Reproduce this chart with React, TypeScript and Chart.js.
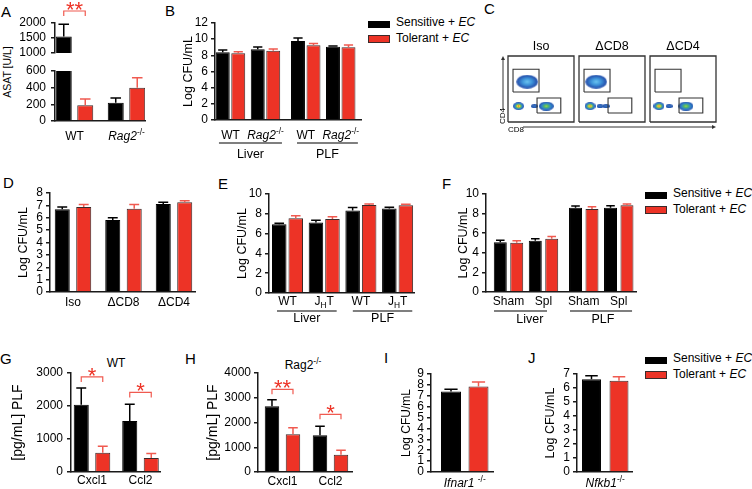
import React, { useEffect, useRef } from "react";
import { Chart, registerables } from "chart.js";

Chart.register(...registerables);

const FONT = "'Liberation Sans', Arial, Helvetica, sans-serif";
Chart.defaults.font.family = FONT;
Chart.defaults.color = "#000";

const BLACK = "#000000";
const RED = "#ED3326";
const RED_LINE = "#F05A50";
const RED_EDGE = "#3a2a2a";
const AXIS = "#1a1a1a";

// ---------------- DATA ----------------
const LEGEND_SERIES = ["Sensitive", "Tolerant"];
const LEGEND_AGENT = "EC";

// A
const A_CATS = ["WT", "*Rag2*^{-/-}"];
const A_SENS = [1550, 220];
const A_SENS_ERR = [1960, 276];
const A_TOL = [190, 400];
const A_TOL_ERR = [265, 520];
const A_UPPER_TICKS = [1000, 1500, 2000];
const A_LOWER_TICKS = [0, 200, 400, 600];
const A_SIG = ["**"];
const A_SIG_Y = [2400];

// B
const B_CATS = ["WT", "*Rag2*^{-/-}", "WT", "*Rag2*^{-/-}"];
const B_GROUPS = ["Liver", "PLF"];
const B_SENS = [8.38, 8.75, 9.78, 9.07];
const B_SENS_ERR = [8.66, 9.03, 10.15, 9.17];
const B_TOL = [8.25, 8.58, 9.24, 9.0];
const B_TOL_ERR = [8.45, 8.79, 9.45, 9.28];
const B_TICKS = [0, 2, 4, 6, 8, 10, 12];

// C
const C_TITLES = ["Iso", "\u0394CD8", "\u0394CD4"];
const C_GATES = [
  [0.076, 0.455, 0.47, 0.8],
  [0.44, 0.136, 0.8, 0.364],
];
const C_CD4_POP = [[0, 0.29, 0.61], [1, 0.26, 0.61]];
const C_DN_POP = [[0, 0.16, 0.24], [1, 0.167, 0.24], [2, 0.136, 0.24]];
const C_CD8_POP = [[0, 0.58, 0.24], [2, 0.545, 0.24]];
const C_TAIL_POP = [[0, 0.4, 0.24], [1, 0.32, 0.24], [1, 0.41, 0.24], [2, 0.29, 0.24]];

// D
const D_CATS = ["Iso", "\u0394CD8", "\u0394CD4"];
const D_SENS = [6.68, 5.82, 7.11];
const D_SENS_ERR = [6.87, 6.0, 7.25];
const D_TOL = [6.87, 6.73, 7.25];
const D_TOL_ERR = [7.08, 7.08, 7.38];
const D_TICKS = [0, 1, 2, 3, 4, 5, 6, 7, 8];

// E
const E_CATS = ["WT", "J_{H}T", "WT", "J_{H}T"];
const E_GROUPS = ["Liver", "PLF"];
const E_SENS = [6.95, 7.13, 8.33, 8.54];
const E_SENS_ERR = [7.05, 7.36, 8.64, 8.65];
const E_TOL = [7.56, 7.47, 8.88, 8.86];
const E_TOL_ERR = [7.8, 7.7, 8.98, 8.97];
const E_TICKS = [0, 2, 4, 6, 8, 10];

// F
const F_CATS = ["Sham", "Spl", "Sham", "Spl"];
const F_GROUPS = ["Liver", "PLF"];
const F_SENS = [5.08, 5.22, 8.6, 8.6];
const F_SENS_ERR = [5.29, 5.43, 8.77, 8.8];
const F_TOL = [5.02, 5.43, 8.46, 8.84];
const F_TOL_ERR = [5.22, 5.67, 8.7, 8.98];
const F_TICKS = [0, 2, 4, 6, 8, 10];

// G
const G_TITLE = "WT";
const G_CATS = ["Cxcl1", "Ccl2"];
const G_SENS = [2035, 1546];
const G_SENS_ERR = [2543, 2055];
const G_TOL = [580, 427];
const G_TOL_ERR = [783, 560];
const G_TICKS = [0, 1000, 2000, 3000];
const G_SIG = ["*", "*"];
const G_SIG_Y = [2880, 2410];

// H
const H_CATS = ["Cxcl1", "Ccl2"];
const H_SENS = [2653, 1481];
const H_SENS_ERR = [2923, 1845];
const H_TOL = [1522, 700];
const H_TOL_ERR = [1791, 875];
const H_TICKS = [0, 1000, 2000, 3000, 4000];
const H_SIG = ["**", "*"];
const H_SIG_Y = [3340, 2330];

// I
const I_CATS = ["*Ifnar1* ^{-/-}"];
const I_SENS = [7.4];
const I_SENS_ERR = [7.61];
const I_TOL = [7.86];
const I_TOL_ERR = [8.26];
const I_TICKS = [0, 1, 2, 3, 4, 5, 6, 7, 8, 9];

// J
const J_CATS = ["*Nfkb1*^{-/-}"];
const J_SENS = [6.62];
const J_SENS_ERR = [6.88];
const J_TOL = [6.52];
const J_TOL_ERR = [6.81];
const J_TICKS = [0, 1, 2, 3, 4, 5, 6, 7];

// ---------------- HELPERS ----------------
type Seg = { t: string; i: boolean; sup: boolean; sub: boolean };

function parseRich(s: string): Seg[] {
  const out: Seg[] = [];
  let italic = false;
  let buf = "";
  let i = 0;
  const flush = () => {
    if (buf) out.push({ t: buf, i: italic, sup: false, sub: false });
    buf = "";
  };
  while (i < s.length) {
    const c = s[i];
    if (c === "*") {
      flush();
      italic = !italic;
      i++;
      continue;
    }
    if ((c === "^" || c === "_") && s[i + 1] === "{") {
      flush();
      const end = s.indexOf("}", i);
      out.push({ t: s.slice(i + 2, end), i: italic, sup: c === "^", sub: c === "_" });
      i = end + 1;
      continue;
    }
    buf += c;
    i++;
  }
  flush();
  return out;
}

function drawRich(ctx: CanvasRenderingContext2D, text: string, cx: number, cy: number, size: number) {
  const segs = parseRich(text);
  const fontOf = (sg: Seg) => `${sg.i ? "italic " : ""}${sg.sup || sg.sub ? size * 0.7 : size}px ${FONT}`;
  let total = 0;
  const widths = segs.map((sg) => {
    ctx.font = fontOf(sg);
    const w = ctx.measureText(sg.t).width;
    total += w;
    return w;
  });
  let x = cx - total / 2;
  ctx.save();
  ctx.fillStyle = "#000";
  ctx.textBaseline = "middle";
  ctx.textAlign = "left";
  segs.forEach((sg, k) => {
    ctx.font = fontOf(sg);
    const dy = sg.sup ? -size * 0.38 : sg.sub ? size * 0.3 : 0;
    ctx.fillText(sg.t, x, cy + dy);
    x += widths[k];
  });
  ctx.restore();
}

type Series = { values: number[]; errors: number[]; fill: string; edge: string; errColor: string };
const sens = (values: number[], errors: number[]): Series => ({ values, errors, fill: BLACK, edge: BLACK, errColor: BLACK });
const tol = (values: number[], errors: number[]): Series => ({ values, errors, fill: RED, edge: RED_EDGE, errColor: RED_LINE });

type Group = { text: string; from: number; to: number; at?: number };
type BarCfg = {
  box: number[];
  area: number[];
  ticks: number[];
  tickPad?: number;
  title?: string;
  titleSize?: number;
  xs: number[];
  xRange: number[];
  catPct: number;
  barPct: number;
  series: Series[];
  showX?: boolean;
  cats?: string[];
  catDy?: number;
  groups?: Group[];
  lineDy?: number;
  textDy?: number;
  sig?: { i: number; y: number; label: string }[];
};

function buildBar(canvas: HTMLCanvasElement, c: BarCfg): Chart {
  const [bl, bt, bw, bh] = c.box;
  const [al, at, ar, ab] = c.area;
  const yW = al - bl;
  const pad = { left: 0, top: at - bt, right: bl + bw - ar, bottom: bt + bh - ab };
  const plugin = {
    id: "extras",
    afterDatasetsDraw(chart: any) {
      const { ctx, chartArea } = chart;
      const ys = chart.scales.y;
      ctx.save();
      ctx.beginPath();
      ctx.rect(chartArea.left, chartArea.top - 1, chartArea.right - chartArea.left, chartArea.bottom - chartArea.top + 1);
      ctx.clip();
      c.series.forEach((s, di) => {
        const meta = chart.getDatasetMeta(di);
        ctx.strokeStyle = s.errColor;
        ctx.lineWidth = 1.5;
        meta.data.forEach((bar: any, k: number) => {
          const yErr = ys.getPixelForValue(s.errors[k]);
          const half = bar.width * 0.33;
          ctx.beginPath();
          ctx.moveTo(bar.x, bar.y);
          ctx.lineTo(bar.x, yErr);
          ctx.moveTo(bar.x - half, yErr);
          ctx.lineTo(bar.x + half, yErr);
          ctx.stroke();
        });
      });
      ctx.restore();
    },
    afterDraw(chart: any) {
      const { ctx, chartArea } = chart;
      const xs = chart.scales.x;
      const ys = chart.scales.y;
      (c.cats || []).forEach((lab, k) => {
        drawRich(ctx, lab, xs.getPixelForValue(c.xs[k]), chartArea.bottom + (c.catDy || 12), 12);
      });
      (c.groups || []).forEach((g) => {
        const x0 = xs.getPixelForValue(g.from);
        const x1 = xs.getPixelForValue(g.to);
        const yl = chartArea.bottom + (c.lineDy || 20);
        ctx.save();
        ctx.strokeStyle = "#555";
        ctx.lineWidth = 1.5;
        ctx.beginPath();
        ctx.moveTo(x0, yl);
        ctx.lineTo(x1, yl);
        ctx.stroke();
        ctx.restore();
        const cx = g.at !== undefined ? xs.getPixelForValue(g.at) : (x0 + x1) / 2;
        drawRich(ctx, g.text, cx, chartArea.bottom + (c.textDy || 30), 12.5);
      });
      (c.sig || []).forEach((s) => {
        const b0 = chart.getDatasetMeta(0).data[s.i];
        const b1 = chart.getDatasetMeta(1).data[s.i];
        const yp = ys.getPixelForValue(s.y);
        ctx.save();
        ctx.strokeStyle = RED_LINE;
        ctx.lineWidth = 1.2;
        ctx.beginPath();
        ctx.moveTo(b0.x, yp + 5);
        ctx.lineTo(b0.x, yp);
        ctx.lineTo(b1.x, yp);
        ctx.lineTo(b1.x, yp + 5);
        ctx.stroke();
        ctx.fillStyle = RED;
        ctx.font = `22px ${FONT}`;
        ctx.textAlign = "center";
        ctx.textBaseline = "alphabetic";
        ctx.fillText(s.label, (b0.x + b1.x) / 2, yp + 6);
        ctx.restore();
      });
    },
  };
  return new Chart(canvas, {
    type: "bar",
    data: {
      datasets: c.series.map((s) => ({
        data: c.xs.map((x, k) => ({ x, y: s.values[k] })),
        backgroundColor: s.fill,
        borderColor: s.edge,
        borderWidth: 1,
        categoryPercentage: c.catPct,
        barPercentage: c.barPct,
        clip: 0,
      })),
    } as any,
    options: {
      responsive: false,
      animation: false,
      devicePixelRatio: 1,
      events: [],
      layout: { padding: pad },
      plugins: { legend: { display: false }, tooltip: { enabled: false }, title: { display: false } },
      scales: {
        x: {
          type: "linear",
          min: c.xRange[0],
          max: c.xRange[1],
          offset: false,
          display: c.showX !== false,
          grid: { display: false },
          ticks: { display: false },
          border: { display: true, color: AXIS, width: 1.5 },
          afterBuildTicks: (s: any) => {
            s.ticks = c.xs.map((v) => ({ value: v }));
          },
          afterFit: (s: any) => {
            s.height = 0;
          },
        },
        y: {
          type: "linear",
          min: c.ticks[0],
          max: c.ticks[c.ticks.length - 1],
          afterBuildTicks: (s: any) => {
            s.ticks = c.ticks.map((v) => ({ value: v }));
          },
          ticks: {
            color: "#000",
            font: { size: 12 },
            padding: c.tickPad ?? 3,
            autoSkip: false,
            callback: (v: any) => String(v),
          },
          grid: { display: true, drawOnChartArea: false, drawTicks: true, tickLength: 4, color: AXIS, lineWidth: 1.5 },
          border: { display: true, color: AXIS, width: 1.5 },
          title: {
            display: !!c.title,
            text: c.title || "",
            color: "#000",
            font: { size: c.titleSize ?? 12.5, lineHeight: 1 },
            padding: 0,
          },
          afterFit: (s: any) => {
            s.width = yW;
            s.paddingTop = 0;
            s.paddingBottom = 0;
          },
        },
      },
    } as any,
    plugins: [plugin],
  });
}

// ---------------- PANEL CONFIGS ----------------
const A_UP: BarCfg = {
  box: [10, 0, 140, 62], area: [55, 23, 145, 53], ticks: A_UPPER_TICKS, tickPad: 5,
  xs: [1, 2], xRange: [0.625, 2.356], catPct: 0.827, barPct: 0.744,
  series: [sens(A_SENS, A_SENS_ERR), tol(A_TOL, A_TOL_ERR)], showX: false,
  sig: A_SIG.map((label, i) => ({ i, y: A_SIG_Y[i], label })),
};
const A_LOW: BarCfg = {
  box: [10, 60, 140, 88], area: [55, 71, 145, 121], ticks: A_LOWER_TICKS, tickPad: 5,
  xs: [1, 2], xRange: [0.625, 2.356], catPct: 0.827, barPct: 0.744,
  series: [sens(A_SENS, A_SENS_ERR), tol(A_TOL, A_TOL_ERR)],
  cats: A_CATS, catDy: 16,
};
const B_CFG: BarCfg = {
  box: [182, 10, 184, 155], area: [215, 23, 361, 120], ticks: B_TICKS, title: "Log CFU/mL",
  xs: [1, 2, 3.15, 4.15], xRange: [0.557, 4.729], catPct: 0.886, barPct: 0.9,
  series: [sens(B_SENS, B_SENS_ERR), tol(B_TOL, B_TOL_ERR)],
  cats: B_CATS, catDy: 16,
  groups: [{ text: B_GROUPS[0], from: 0.67, to: 2.47 }, { text: B_GROUPS[1], from: 2.9, to: 4.64 }],
  lineDy: 23, textDy: 35,
};
const D_CFG: BarCfg = {
  box: [17, 180, 183, 135], area: [50, 193, 195, 292], ticks: D_TICKS, title: "Log CFU/mL",
  xs: [1, 2, 3], xRange: [0.545, 3.416], catPct: 0.85, barPct: 0.7,
  series: [sens(D_SENS, D_SENS_ERR), tol(D_TOL, D_TOL_ERR)],
  cats: D_CATS, catDy: 11,
};
const E_CFG: BarCfg = {
  box: [236, 180, 183, 150], area: [269, 194, 414, 293], ticks: E_TICKS, title: "Log CFU/mL",
  xs: [1, 2, 3, 4], xRange: [0.496, 4.447], catPct: 0.9, barPct: 0.88,
  series: [sens(E_SENS, E_SENS_ERR), tol(E_TOL, E_TOL_ERR)],
  cats: E_CATS, catDy: 9,
  groups: [{ text: E_GROUPS[0], from: 0.714, to: 2.34 }, { text: E_GROUPS[1], from: 2.78, to: 4.4 }],
  lineDy: 18, textDy: 26,
};
const F_CFG: BarCfg = {
  box: [457, 180, 184, 150], area: [486, 194, 636, 292], ticks: F_TICKS, title: "Log CFU/mL",
  xs: [1, 2, 3.15, 4.15], xRange: [0.357, 4.643], catPct: 0.94, barPct: 0.79,
  series: [sens(F_SENS, F_SENS_ERR), tol(F_TOL, F_TOL_ERR)],
  cats: F_CATS, catDy: 10,
  groups: [
    { text: F_GROUPS[0], from: 0.586, to: 2.1, at: 1.61 },
    { text: F_GROUPS[1], from: 2.757, to: 4.53, at: 3.7 },
  ],
  lineDy: 19, textDy: 28,
};
const G_CFG: BarCfg = {
  box: [11, 340, 155, 149], area: [71, 373, 160, 472], ticks: G_TICKS, title: "[pg/mL] PLF", titleSize: 14, tickPad: 4,
  xs: [1, 2], xRange: [0.567, 2.402], catPct: 0.887, barPct: 0.7,
  series: [sens(G_SENS, G_SENS_ERR), tol(G_TOL, G_TOL_ERR)],
  cats: G_CATS, catDy: 9,
  sig: G_SIG.map((label, i) => ({ i, y: G_SIG_Y[i], label })),
};
const H_CFG: BarCfg = {
  box: [206, 340, 152, 149], area: [258, 373, 352, 472], ticks: H_TICKS, title: "[pg/mL] PLF", titleSize: 14,
  xs: [1, 2], xRange: [0.49, 2.448], catPct: 0.875, barPct: 0.69,
  series: [sens(H_SENS, H_SENS_ERR), tol(H_TOL, H_TOL_ERR)],
  cats: H_CATS, catDy: 10,
  sig: H_SIG.map((label, i) => ({ i, y: H_SIG_Y[i], label })),
};
const I_CFG: BarCfg = {
  box: [401, 345, 97, 144], area: [431, 374, 493, 472], ticks: I_TICKS, title: "Log CFU/mL", titleSize: 12,
  xs: [1], xRange: [0, 1.837], catPct: 0.887, barPct: 0.727,
  series: [sens(I_SENS, I_SENS_ERR), tol(I_TOL, I_TOL_ERR)],
  cats: I_CATS, catDy: 12,
};
const J_CFG: BarCfg = {
  box: [544, 345, 93, 144], area: [577, 374, 632, 472], ticks: J_TICKS, title: "Log CFU/mL", titleSize: 12.5,
  xs: [1], xRange: [0, 1.947], catPct: 1.0, barPct: 0.69,
  series: [sens(J_SENS, J_SENS_ERR), tol(J_TOL, J_TOL_ERR)],
  cats: J_CATS, catDy: 12,
};

// ---------------- PANEL C ----------------
const C_BOX = [495, 36, 226, 100];
const C_AREA = [508, 56, 716, 122];
const PANEL_STEP = 1.076;

function blobImage(w: number, h: number, stops: [number, string][]) {
  const c = document.createElement("canvas");
  c.width = w;
  c.height = h;
  const g = c.getContext("2d")!;
  g.save();
  g.translate(w / 2, h / 2);
  g.scale(w / 2, h / 2);
  const grd = g.createRadialGradient(0, 0, 0, 0, 0, 1);
  stops.forEach(([o, col]) => grd.addColorStop(o, col));
  g.fillStyle = grd;
  g.beginPath();
  g.arc(0, 0, 1, 0, Math.PI * 2);
  g.fill();
  g.restore();
  return c;
}

function rectPts(p: number, r: number[]) {
  const o = p * PANEL_STEP;
  const [x0, y0, x1, y1] = r;
  return [
    { x: o + x0, y: y0 }, { x: o + x1, y: y0 }, { x: o + x1, y: y1 }, { x: o + x0, y: y1 }, { x: o + x0, y: y0 },
  ];
}

function buildFlow(canvas: HTMLCanvasElement): Chart {
  const [bl, bt, bw, bh] = C_BOX;
  const [al, at, ar, ab] = C_AREA;
  const imgCD4 = blobImage(22, 14, [[0, "#6CC4F0"], [0.45, "#3E94DA"], [0.85, "#2858B2"], [1, "rgba(36,80,170,0.7)"]]);
  const imgDN = blobImage(11, 8, [[0, "#E0332A"], [0.22, "#F2D43A"], [0.45, "#5EBE5E"], [0.7, "#2F7FD0"], [1, "#2050A8"]]);
  const imgCD8 = blobImage(15, 9, [[0, "#A6D44A"], [0.3, "#4DB86A"], [0.62, "#3183CE"], [1, "#2050A8"]]);
  const imgTail = blobImage(7, 4, [[0, "#3A78C8"], [1, "#2050A8"]]);
  const lineDs = (pts: any[], w: number) => ({
    data: pts, showLine: true, borderColor: "#333", borderWidth: w, pointRadius: 0, fill: false, tension: 0, clip: false,
  });
  const popDs = (pop: number[][], img: HTMLCanvasElement) => ({
    data: pop.map(([p, x, y]) => ({ x: p * PANEL_STEP + x, y })),
    pointStyle: img, pointRadius: 2, showLine: false, clip: false,
  });
  const datasets: any[] = [];
  C_TITLES.forEach((_, p) => {
    datasets.push(lineDs(rectPts(p, [0, 0, 1, 1]), 1.3));
    C_GATES.forEach((g) => datasets.push(lineDs(rectPts(p, g), 1.1)));
  });
  datasets.push(popDs(C_TAIL_POP, imgTail));
  datasets.push(popDs(C_CD4_POP, imgCD4));
  datasets.push(popDs(C_DN_POP, imgDN));
  datasets.push(popDs(C_CD8_POP, imgCD8));

  const plugin = {
    id: "flowDeco",
    afterDraw(chart: any) {
      const { ctx, chartArea } = chart;
      const xs = chart.scales.x;
      ctx.save();
      ctx.fillStyle = "#000";
      ctx.font = `12.5px ${FONT}`;
      ctx.textAlign = "center";
      ctx.textBaseline = "middle";
      C_TITLES.forEach((t, p) => {
        ctx.fillText(t, xs.getPixelForValue(p * PANEL_STEP + 0.5), chartArea.top - 9);
      });
      ctx.strokeStyle = "#333";
      ctx.fillStyle = "#333";
      ctx.lineWidth = 1;
      // y arrow (CD4)
      const ax = chartArea.left - 5;
      ctx.beginPath();
      ctx.moveTo(ax, chartArea.bottom - 13);
      ctx.lineTo(ax, chartArea.top + 3);
      ctx.stroke();
      ctx.beginPath();
      ctx.moveTo(ax, chartArea.top);
      ctx.lineTo(ax - 2, chartArea.top + 4);
      ctx.lineTo(ax + 2, chartArea.top + 4);
      ctx.closePath();
      ctx.fill();
      // x arrow (CD8)
      const ay = chartArea.bottom + 5;
      ctx.beginPath();
      ctx.moveTo(chartArea.left + 15, ay);
      ctx.lineTo(chartArea.right - 3, ay);
      ctx.stroke();
      ctx.beginPath();
      ctx.moveTo(chartArea.right, ay);
      ctx.lineTo(chartArea.right - 4, ay - 2);
      ctx.lineTo(chartArea.right - 4, ay + 2);
      ctx.closePath();
      ctx.fill();
      ctx.fillStyle = "#000";
      ctx.font = `8px ${FONT}`;
      ctx.textAlign = "left";
      ctx.fillText("CD8", chartArea.left, ay + 3);
      ctx.save();
      ctx.translate(ax, chartArea.bottom - 6);
      ctx.rotate(-Math.PI / 2);
      ctx.textAlign = "center";
      ctx.fillText("CD4", 0, 0);
      ctx.restore();
      ctx.restore();
    },
  };

  return new Chart(canvas, {
    type: "scatter",
    data: { datasets },
    options: {
      responsive: false,
      animation: false,
      devicePixelRatio: 1,
      events: [],
      layout: { padding: { left: al - bl, top: at - bt, right: bl + bw - ar, bottom: bt + bh - ab } },
      plugins: { legend: { display: false }, tooltip: { enabled: false } },
      scales: {
        x: { type: "linear", min: 0, max: 2 * PANEL_STEP + 1, display: false },
        y: { type: "linear", min: 0, max: 1, display: false },
      },
    } as any,
    plugins: [plugin],
  });
}

// ---------------- COMPONENTS ----------------
function ChartCanvas({ box, build }: { box: number[]; build: (c: HTMLCanvasElement) => Chart }) {
  const ref = useRef<HTMLCanvasElement>(null);
  useEffect(() => {
    const ch = build(ref.current!);
    return () => ch.destroy();
  }, []);
  return (
    <canvas
      ref={ref}
      width={box[2]}
      height={box[3]}
      style={{ position: "absolute", left: box[0], top: box[1], width: box[2], height: box[3] }}
    />
  );
}

function BarPanel({ cfg }: { cfg: BarCfg }) {
  return <ChartCanvas box={cfg.box} build={(c) => buildBar(c, cfg)} />;
}

function Legend({ left, top }: { left: number; top: number }) {
  return (
    <>
      {LEGEND_SERIES.map((name, k) => (
        <React.Fragment key={name}>
          <div
            style={{
              position: "absolute", left, top: top + k * 14, width: 22, height: k ? 8 : 7,
              background: k ? RED : BLACK, border: k ? `1px solid ${RED_EDGE}` : "none", boxSizing: "border-box",
            }}
          />
          <div
            style={{
              position: "absolute", left: left + 28, top: top + 1 + k * 16 - 7, height: 14, lineHeight: "14px",
              fontSize: 12, fontFamily: FONT, whiteSpace: "nowrap", color: "#000",
            }}
          >
            {name} + <i>{LEGEND_AGENT}</i>
          </div>
        </React.Fragment>
      ))}
    </>
  );
}

const PANEL_LETTERS: [string, number, number][] = [
  ["A", 1, 4], ["B", 165, 3], ["C", 484, 1], ["D", 3, 175], ["E", 218, 176], ["F", 442, 176],
  ["G", 0, 351], ["H", 185, 351], ["I", 384, 350], ["J", 528, 350],
];

export default function App() {
  const txt: React.CSSProperties = { position: "absolute", fontFamily: FONT, color: "#000", whiteSpace: "nowrap" };
  return (
    <div style={{ position: "absolute", left: 0, top: 0, width: 752, height: 489, background: "#fff", overflow: "hidden" }}>
      {PANEL_LETTERS.map(([l, x, y]) => (
        <div key={l} style={{ ...txt, left: x, top: y, fontSize: 15, lineHeight: "15px" }}>{l}</div>
      ))}
      <div
        style={{
          ...txt, left: 7, top: 72, fontSize: 10.5, lineHeight: "12px",
          transform: "translate(-50%, -50%) rotate(-90deg)",
        }}
      >
        ASAT [U/L]
      </div>
      <div style={{ ...txt, left: 116, top: 363, fontSize: 12, lineHeight: "14px", transform: "translate(-50%, -50%)" }}>
        {G_TITLE}
      </div>
      <div style={{ ...txt, left: 303, top: 363, fontSize: 12, lineHeight: "14px", transform: "translate(-50%, -50%)" }}>
        Rag2<sup style={{ fontSize: 8.5 }}>-/-</sup>
      </div>
      <BarPanel cfg={A_UP} />
      <BarPanel cfg={A_LOW} />
      <BarPanel cfg={B_CFG} />
      <ChartCanvas box={C_BOX} build={buildFlow} />
      <BarPanel cfg={D_CFG} />
      <BarPanel cfg={E_CFG} />
      <BarPanel cfg={F_CFG} />
      <BarPanel cfg={G_CFG} />
      <BarPanel cfg={H_CFG} />
      <BarPanel cfg={I_CFG} />
      <BarPanel cfg={J_CFG} />
      <Legend left={368} top={21} />
      <Legend left={645} top={192} />
      <Legend left={645} top={357} />
    </div>
  );
}
